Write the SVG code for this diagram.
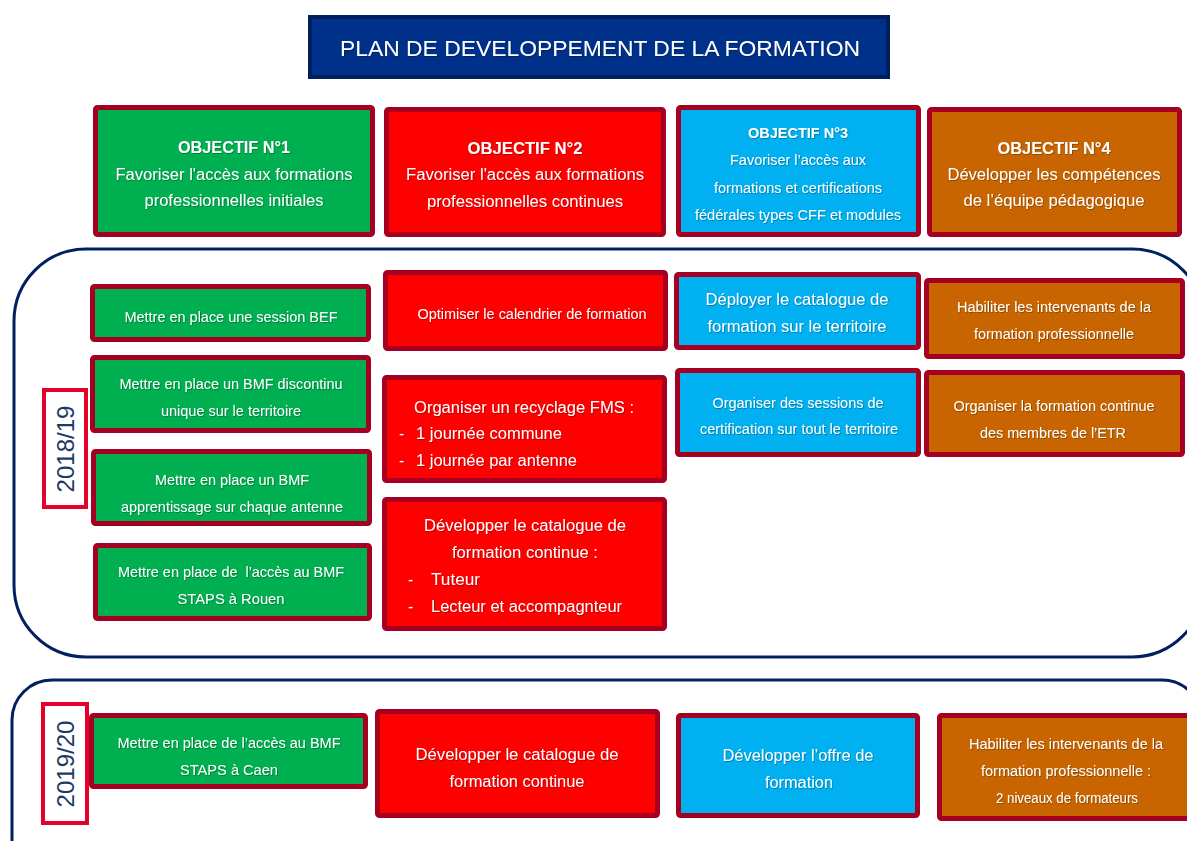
<svg xmlns="http://www.w3.org/2000/svg" width="1187" height="841" viewBox="0 0 1187 841">
<defs>
  <filter id="sh" x="-5%" y="-30%" width="110%" height="160%">
    <feDropShadow dx="0.8" dy="0.8" stdDeviation="0.6" flood-color="#000000" flood-opacity="0.35"/>
  </filter>
</defs>
<style>
  .box{stroke:#A50021;stroke-width:5;}
  .g{fill:#00B050;} .r{fill:#FF0000;} .b{fill:#00B0F0;} .o{fill:#C96500;}
  .t{font-family:"Liberation Sans",Arial,sans-serif;fill:#FFFFFF;text-anchor:middle;filter:url(#sh);}
  .tl{font-family:"Liberation Sans",Arial,sans-serif;fill:#FFFFFF;filter:url(#sh);}
  .hd{font-weight:bold;}
  .s{font-size:14px;} .m{font-size:16px;}
  .grp{fill:none;stroke:#002060;stroke-width:3;}
  .yr{fill:#FFFFFF;stroke:#E3002B;stroke-width:4;}
  .yt{font-family:"Liberation Sans",Arial,sans-serif;fill:#1F3864;font-size:24px;text-anchor:middle;}
</style>
<rect width="1187" height="841" fill="#FFFFFF"/>

<g id="title">
  <rect x="310" y="17" width="578" height="60" fill="#00318A" stroke="#001F5C" stroke-width="4"/>
  <text class="t" x="600" y="56" font-size="22.5" textLength="520" lengthAdjust="spacingAndGlyphs">PLAN DE DEVELOPPEMENT DE LA FORMATION</text>
</g>

<g id="groups">
  <rect id="grp-2018" class="grp" x="14" y="249" width="1190" height="408" rx="72"/>
  <rect id="grp-2019" class="grp" x="12" y="680" width="1190" height="220" rx="40"/>
</g>

<g id="obj1">
  <rect class="box g" x="95.5" y="107.5" width="277" height="127" rx="2"/>
  <text class="t hd m" x="234" y="153" textLength="112" lengthAdjust="spacingAndGlyphs">OBJECTIF N°1</text>
  <text class="t m" x="234" y="180" textLength="237" lengthAdjust="spacingAndGlyphs">Favoriser l'accès aux formations</text>
  <text class="t m" x="234" y="206" textLength="179" lengthAdjust="spacingAndGlyphs">professionnelles initiales</text>
</g>
<g id="obj2">
  <rect class="box r" x="386.5" y="109.5" width="277" height="125" rx="2"/>
  <text class="t hd m" x="525" y="154" textLength="115" lengthAdjust="spacingAndGlyphs">OBJECTIF N°2</text>
  <text class="t m" x="525" y="180" textLength="238" lengthAdjust="spacingAndGlyphs">Favoriser l'accès aux formations</text>
  <text class="t m" x="525" y="207" textLength="196" lengthAdjust="spacingAndGlyphs">professionnelles continues</text>
</g>
<g id="obj3">
  <rect class="box b" x="678.5" y="107.5" width="240" height="127" rx="2"/>
  <text class="t hd" x="798" y="138" font-size="15" textLength="100" lengthAdjust="spacingAndGlyphs">OBJECTIF N°3</text>
  <text class="t s" x="798" y="165" textLength="136" lengthAdjust="spacingAndGlyphs">Favoriser l’accès aux</text>
  <text class="t s" x="798" y="193" textLength="168" lengthAdjust="spacingAndGlyphs">formations et certifications</text>
  <text class="t s" x="798" y="220" textLength="206" lengthAdjust="spacingAndGlyphs">fédérales types CFF et modules</text>
</g>
<g id="obj4">
  <rect class="box o" x="929.5" y="109.5" width="250" height="125" rx="2"/>
  <text class="t hd m" x="1054" y="154" textLength="113" lengthAdjust="spacingAndGlyphs">OBJECTIF N°4</text>
  <text class="t m" x="1054" y="180" textLength="213" lengthAdjust="spacingAndGlyphs">Développer les compétences</text>
  <text class="t m" x="1054" y="206" textLength="181" lengthAdjust="spacingAndGlyphs">de l’équipe pédagogique</text>
</g>

<g id="year-2018">
  <rect class="yr" x="44" y="390" width="42" height="117"/>
  <text class="yt" transform="translate(74,449) rotate(-90)">2018/19</text>
</g>
<g id="year-2019">
  <rect class="yr" x="43" y="704" width="44" height="119"/>
  <text class="yt" transform="translate(74,764) rotate(-90)">2019/20</text>
</g>

<g id="g1">
  <rect class="box g" x="92.5" y="286.5" width="276" height="53" rx="2"/>
  <text class="t s" x="231" y="322" textLength="213" lengthAdjust="spacingAndGlyphs">Mettre en place une session BEF</text>
</g>
<g id="g2">
  <rect class="box g" x="92.5" y="357.5" width="276" height="73" rx="2"/>
  <text class="t s" x="231" y="389" textLength="223" lengthAdjust="spacingAndGlyphs">Mettre en place un BMF discontinu</text>
  <text class="t s" x="231" y="416" textLength="140" lengthAdjust="spacingAndGlyphs">unique sur le territoire</text>
</g>
<g id="g3">
  <rect class="box g" x="93.5" y="451.5" width="276" height="72" rx="2"/>
  <text class="t s" x="232" y="485" textLength="154" lengthAdjust="spacingAndGlyphs">Mettre en place un BMF</text>
  <text class="t s" x="232" y="512" textLength="222" lengthAdjust="spacingAndGlyphs">apprentissage sur chaque antenne</text>
</g>
<g id="g4">
  <rect class="box g" x="95.5" y="545.5" width="274" height="73" rx="2"/>
  <text class="t s" x="231" y="577" textLength="226" lengthAdjust="spacingAndGlyphs" xml:space="preserve">Mettre en place de  l’accès au BMF</text>
  <text class="t s" x="231" y="604" textLength="107" lengthAdjust="spacingAndGlyphs">STAPS à Rouen</text>
</g>

<g id="r1">
  <rect class="box r" x="385.5" y="272.5" width="280" height="76" rx="2"/>
  <text class="t s" x="532" y="319" textLength="229" lengthAdjust="spacingAndGlyphs">Optimiser le calendrier de formation</text>
</g>
<g id="r2">
  <rect class="box r" x="384.5" y="377.5" width="280" height="103" rx="2"/>
  <text class="t m" x="524" y="413" textLength="220" lengthAdjust="spacingAndGlyphs">Organiser un recyclage FMS :</text>
  <text class="tl m" x="399" y="439">-</text>
  <text class="tl m" x="416" y="439" textLength="146" lengthAdjust="spacingAndGlyphs">1 journée commune</text>
  <text class="tl m" x="399" y="466">-</text>
  <text class="tl m" x="416" y="466" textLength="161" lengthAdjust="spacingAndGlyphs">1 journée par antenne</text>
</g>
<g id="r3">
  <rect class="box r" x="384.5" y="499.5" width="280" height="129" rx="2"/>
  <text class="t m" x="525" y="531" textLength="202" lengthAdjust="spacingAndGlyphs">Développer le catalogue de</text>
  <text class="t m" x="525" y="558" textLength="146" lengthAdjust="spacingAndGlyphs">formation continue :</text>
  <text class="tl m" x="408" y="585">-</text>
  <text class="tl m" x="431" y="585" textLength="49" lengthAdjust="spacingAndGlyphs">Tuteur</text>
  <text class="tl m" x="408" y="612">-</text>
  <text class="tl m" x="431" y="612" textLength="191" lengthAdjust="spacingAndGlyphs">Lecteur et accompagnteur</text>
</g>

<g id="b1">
  <rect class="box b" x="676.5" y="274.5" width="242" height="73" rx="2"/>
  <text class="t m" x="797" y="305" textLength="183" lengthAdjust="spacingAndGlyphs">Déployer le catalogue de</text>
  <text class="t m" x="797" y="332" textLength="179" lengthAdjust="spacingAndGlyphs">formation sur le territoire</text>
</g>
<g id="b2">
  <rect class="box b" x="677.5" y="370.5" width="241" height="84" rx="2"/>
  <text class="t s" x="798" y="408" textLength="171" lengthAdjust="spacingAndGlyphs">Organiser des sessions de</text>
  <text class="t s" x="799" y="434" textLength="198" lengthAdjust="spacingAndGlyphs">certification sur tout le territoire</text>
</g>

<g id="o1">
  <rect class="box o" x="926.5" y="280.5" width="256" height="76" rx="2"/>
  <text class="t s" x="1054" y="312" textLength="194" lengthAdjust="spacingAndGlyphs">Habiliter les intervenants de la</text>
  <text class="t s" x="1054" y="339" textLength="160" lengthAdjust="spacingAndGlyphs">formation professionnelle</text>
</g>
<g id="o2">
  <rect class="box o" x="926.5" y="372.5" width="256" height="82" rx="2"/>
  <text class="t s" x="1054" y="411" textLength="201" lengthAdjust="spacingAndGlyphs">Organiser la formation continue</text>
  <text class="t s" x="1053" y="438" textLength="146" lengthAdjust="spacingAndGlyphs">des membres de l’ETR</text>
</g>

<g id="g5">
  <rect class="box g" x="91.5" y="715.5" width="274" height="71" rx="2"/>
  <text class="t s" x="229" y="748" textLength="223" lengthAdjust="spacingAndGlyphs">Mettre en place de l’accès au BMF</text>
  <text class="t s" x="229" y="775" textLength="98" lengthAdjust="spacingAndGlyphs">STAPS à Caen</text>
</g>
<g id="r4">
  <rect class="box r" x="377.5" y="711.5" width="280" height="104" rx="2"/>
  <text class="t m" x="517" y="760" textLength="203" lengthAdjust="spacingAndGlyphs">Développer le catalogue de</text>
  <text class="t m" x="517" y="787" textLength="135" lengthAdjust="spacingAndGlyphs">formation continue</text>
</g>
<g id="b3">
  <rect class="box b" x="678.5" y="715.5" width="239" height="100" rx="2"/>
  <text class="t m" x="798" y="761" textLength="151" lengthAdjust="spacingAndGlyphs">Développer l’offre de</text>
  <text class="t m" x="799" y="788" textLength="68" lengthAdjust="spacingAndGlyphs">formation</text>
</g>
<g id="o3">
  <rect class="box o" x="939.5" y="715.5" width="256" height="103" rx="2"/>
  <text class="t s" x="1066" y="749" textLength="194" lengthAdjust="spacingAndGlyphs">Habiliter les intervenants de la</text>
  <text class="t s" x="1066" y="776" textLength="170" lengthAdjust="spacingAndGlyphs">formation professionnelle :</text>
  <text class="t s" x="1067" y="803" textLength="142" lengthAdjust="spacingAndGlyphs">2 niveaux de formateurs</text>
</g>

<g id="connectors"></g>
</svg>
